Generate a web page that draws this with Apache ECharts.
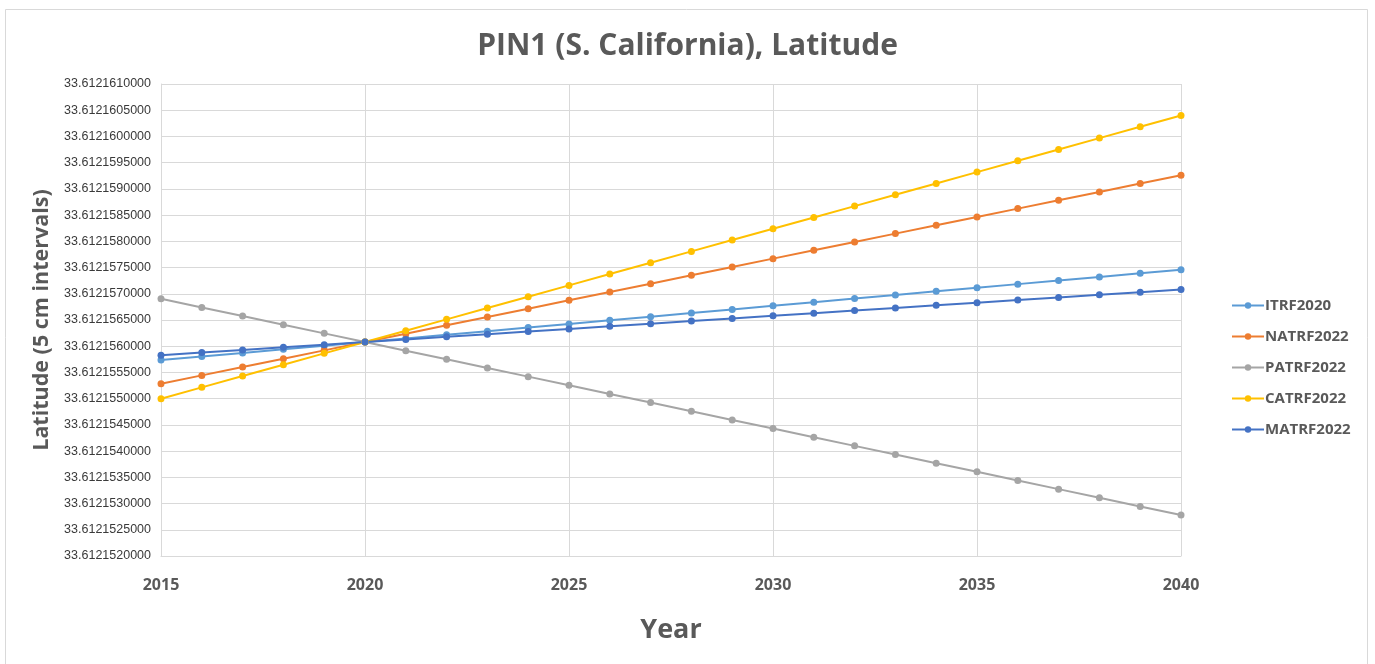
<!DOCTYPE html>
<html>
<head>
<meta charset="utf-8">
<script src="https://cdn.jsdelivr.net/npm/echarts@6/dist/echarts.min.js"></script>
<style>
  html, body { margin: 0; padding: 0; background: #ffffff; }
  #chart { width: 1375px; height: 664px; }
</style>
</head>
<body>
<div id="chart"></div>
<script>
// Years along the x axis
const years = [2015, 2016, 2017, 2018, 2019, 2020, 2021, 2022, 2023, 2024, 2025, 2026, 2027,
               2028, 2029, 2030, 2031, 2032, 2033, 2034, 2035, 2036, 2037, 2038, 2039, 2040];

// Latitude (degrees) of PIN1 per reference frame, by year
const itrf2020 = [33.6121557350, 33.6121558040, 33.6121558730, 33.6121559420, 33.6121560110, 33.6121560800,
                  33.6121561490, 33.6121562180, 33.6121562870, 33.6121563560, 33.6121564250, 33.6121564940,
                  33.6121565630, 33.6121566320, 33.6121567010, 33.6121567700, 33.6121568390, 33.6121569080,
                  33.6121569770, 33.6121570460, 33.6121571150, 33.6121571840, 33.6121572530, 33.6121573220,
                  33.6121573910, 33.6121574600];
const natrf2022 = [33.6121552850, 33.6121554440, 33.6121556030, 33.6121557620, 33.6121559210, 33.6121560800,
                   33.6121562390, 33.6121563980, 33.6121565570, 33.6121567160, 33.6121568750, 33.6121570340,
                   33.6121571930, 33.6121573520, 33.6121575110, 33.6121576700, 33.6121578290, 33.6121579880,
                   33.6121581470, 33.6121583060, 33.6121584650, 33.6121586240, 33.6121587830, 33.6121589420,
                   33.6121591010, 33.6121592600];
const patrf2022 = [33.6121569050, 33.6121567400, 33.6121565750, 33.6121564100, 33.6121562450, 33.6121560800,
                   33.6121559150, 33.6121557500, 33.6121555850, 33.6121554200, 33.6121552550, 33.6121550900,
                   33.6121549250, 33.6121547600, 33.6121545950, 33.6121544300, 33.6121542650, 33.6121541000,
                   33.6121539350, 33.6121537700, 33.6121536050, 33.6121534400, 33.6121532750, 33.6121531100,
                   33.6121529450, 33.6121527800];
const catrf2022 = [33.6121550000, 33.6121552160, 33.6121554320, 33.6121556480, 33.6121558640, 33.6121560800,
                   33.6121562960, 33.6121565120, 33.6121567280, 33.6121569440, 33.6121571600, 33.6121573760,
                   33.6121575920, 33.6121578080, 33.6121580240, 33.6121582400, 33.6121584560, 33.6121586720,
                   33.6121588880, 33.6121591040, 33.6121593200, 33.6121595360, 33.6121597520, 33.6121599680,
                   33.6121601840, 33.6121604000];
const matrf2022 = [33.6121558300, 33.6121558800, 33.6121559300, 33.6121559800, 33.6121560300, 33.6121560800,
                   33.6121561300, 33.6121561800, 33.6121562300, 33.6121562800, 33.6121563300, 33.6121563800,
                   33.6121564300, 33.6121564800, 33.6121565300, 33.6121565800, 33.6121566300, 33.6121566800,
                   33.6121567300, 33.6121567800, 33.6121568300, 33.6121568800, 33.6121569300, 33.6121569800,
                   33.6121570300, 33.6121570800];

const seriesNames = ['ITRF2020', 'NATRF2022', 'PATRF2022', 'CATRF2022', 'MATRF2022'];
const seriesColors = ['#5B9BD5', '#ED7D31', '#A5A5A5', '#FFC000', '#4472C4'];

// Axis range for latitude (degrees)
const latMin = 33.612152;
const latMax = 33.612161;
const latStep = 0.0000005;

// The differences are tiny, so plot them in units of 1e-7 degree above latMin
// and turn them back into full latitudes for the tick labels.
const UNIT = 1e-7;
const toOffset = lat => Math.round((lat - latMin) / UNIT * 1e4) / 1e4;
const toLabel = off => (latMin + off * UNIT).toFixed(10);

const allSeries = [itrf2020, natrf2022, patrf2022, catrf2022, matrf2022];

const chart = echarts.init(document.getElementById('chart'), null, { renderer: 'canvas' });

const textGray = '#595959';

chart.setOption({
  backgroundColor: '#ffffff',
  animation: false,
  color: seriesColors,
  graphic: [{
    type: 'rect',
    shape: { x: 5.5, y: 9.5, width: 1362, height: 670 },
    style: { fill: 'none', stroke: '#d9d9d9', lineWidth: 1 },
    silent: true,
    z: -1
  }],
  title: {
    text: 'PIN1 (S. California), Latitude',
    left: 'center',
    top: 26,
    textStyle: { fontFamily: 'Open Sans', fontSize: 30, fontWeight: 'bold', color: textGray }
  },
  legend: {
    orient: 'vertical',
    left: 1226,
    top: 293,
    itemGap: 16,
    itemWidth: 32,
    itemHeight: 8,
    data: seriesNames,
    textStyle: { fontFamily: 'Open Sans', fontSize: 15, fontWeight: 700, color: textGray, padding: [0, 0, 0, -4] }
  },
  grid: { left: 161, right: 194, top: 84, bottom: 108, containLabel: false },
  xAxis: {
    type: 'value',
    min: 2015,
    max: 2040,
    interval: 5,
    name: 'Year',
    nameLocation: 'middle',
    nameGap: 61,
    nameTextStyle: { fontFamily: 'Open Sans', fontSize: 27, fontWeight: 700, color: textGray },
    axisLine: { show: true, lineStyle: { color: '#d9d9d9', width: 1 } },
    axisTick: { show: false },
    splitLine: { show: true, lineStyle: { color: '#d9d9d9', width: 1 } },
    axisLabel: {
      margin: 21,
      fontFamily: 'Open Sans', fontSize: 16, fontWeight: 700, color: textGray,
      formatter: v => String(v)
    }
  },
  yAxis: {
    type: 'value',
    min: 0,
    max: toOffset(latMax),
    interval: latStep / UNIT,
    name: 'Latitude (5 cm intervals)',
    nameLocation: 'middle',
    nameGap: 106,
    nameRotate: 90,
    nameTextStyle: { fontFamily: 'Open Sans', fontSize: 21.5, fontWeight: 700, color: textGray },
    axisLine: { show: true, lineStyle: { color: '#d9d9d9', width: 1 } },
    axisTick: { show: false },
    splitLine: { show: true, lineStyle: { color: '#d9d9d9', width: 1 } },
    axisLabel: {
      margin: 10,
      fontFamily: 'Liberation Sans', fontSize: 12.5, color: '#3a3a3a',
      formatter: v => toLabel(v)
    }
  },
  series: seriesNames.map((name, i) => ({
    name: name,
    type: 'line',
    data: years.map((yr, j) => [yr, toOffset(allSeries[i][j])]),
    symbol: 'circle',
    symbolSize: 7,
    showSymbol: true,
    lineStyle: { width: 2, color: seriesColors[i] },
    itemStyle: { color: seriesColors[i] },
    emphasis: { disabled: true }
  }))
});
</script>
</body>
</html>
